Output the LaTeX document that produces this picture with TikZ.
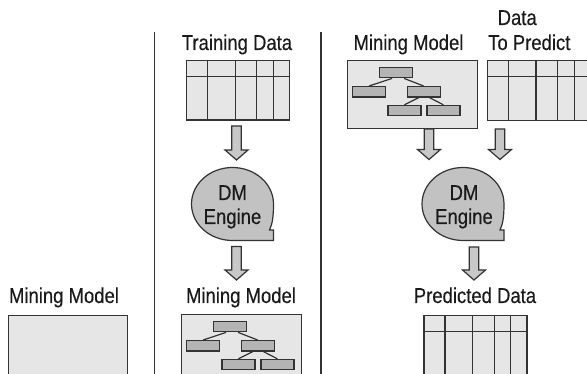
\documentclass[tikz,border=0pt]{standalone}
\usepackage{fontspec}
\setmainfont{Liberation Sans}[FakeStretch=0.86, FakeBold=0.3]
\usetikzlibrary{calc}
\definecolor{ink}{HTML}{333333}
\definecolor{txt}{HTML}{1A1A1A}
\definecolor{light}{HTML}{E6E6E6}
\definecolor{leafgray}{HTML}{B4B4B4}
\definecolor{arrowgray}{HTML}{C8C8C8}
\definecolor{bubblegray}{HTML}{C2C2C2}
\tikzset{
  lw/.style={line width=1.2pt},
  lbl/.style={font=\fontsize{21.5}{24}\selectfont, text=txt, anchor=base, inner sep=0pt},
  tablebox/.style={draw=ink, lw, fill=light, minimum width=103pt, minimum height=60pt, inner sep=0pt, anchor=north west},
  modelbox/.style={draw=ink, lw, fill=light, inner sep=0pt, anchor=north west},
  leaf/.style={draw=ink, lw, fill=leafgray, minimum width=33pt, minimum height=10.5pt, inner sep=0pt, anchor=north west},
  blockarrow/.style={draw=ink, lw, fill=arrowgray, line join=miter},
  bubble/.style={draw=ink, lw, fill=bubblegray, line join=miter},
  divider/.style={draw=ink, line width=1.5pt},
}
% data table: #1 name, #2 x, #3 y, #4 height
\newcommand{\datatable}[4]{%
  \node[tablebox, minimum height=#4] (#1) at (#2,#3) {};
  \draw[ink, lw] ($(#1.north west)+(0,16.3)$) -- ($(#1.north east)+(0,16.3)$);
  \foreach \c in {21.7,49.3,70.8,87.5}
    \draw[ink, lw] ($(#1.north west)+(\c,0)$) -- ($(#1.south west)+(\c,0)$);
}
% tree inside model box: #1 prefix, #2 x, #3 y (box top-left)
\newcommand{\minitree}[3]{%
  \node[leaf] (#1t) at (#2+32,#3+6.7) {};
  \node[leaf] (#1l) at (#2+5,#3+26) {};
  \node[leaf] (#1r) at (#2+59.5,#3+26) {};
  \node[leaf] (#1a) at (#2+40.3,#3+44.8) {};
  \node[leaf] (#1b) at (#2+79.3,#3+44.8) {};
  \draw[ink, lw] ($(#1t.south)+(-4,0)$) -- (#1l.north);
  \draw[ink, lw] ($(#1t.south)+(8,0)$) -- (#1r.north);
  \draw[ink, lw] ($(#1r.south)+(-5,0)$) -- (#1a.north);
  \draw[ink, lw] ($(#1r.south)+(6,0)$) -- (#1b.north);
}
% block arrow: #1 top coordinate, #2 tip coordinate
\newcommand{\blockarr}[2]{%
  \draw[blockarrow] ($(#1)+(-4.7,0)$) -- ($(#2)+(-4.7,-10)$) -- ($(#2)+(-11.5,-10)$) -- (#2)
    -- ($(#2)+(11.5,-10)$) -- ($(#2)+(4.7,-10)$) -- ($(#1)+(4.7,0)$) -- cycle;
}
% speech bubble centred at #1
\newcommand{\dmbubble}[1]{%
  \draw[bubble, shift={(#1)}] (41,0) .. controls (41,12) and (40,20) .. (37,26) -- (41,26) -- (41,36.5)
    -- (0,36.5) .. controls (-22.6,36.5) and (-41,20.2) .. (-41,0)
    .. controls (-41,-20.2) and (-22.6,-36.5) .. (0,-36.5)
    .. controls (22.6,-36.5) and (41,-20.2) .. (41,0) -- cycle;
}
\begin{document}
\begin{tikzpicture}[x=1pt,y=-1pt]
\clip (0,0) rectangle (587,374);
\fill[white] (0,0) rectangle (587,374);

% dividers
\draw[divider] (154.5,32) -- (154.5,380);
\draw[divider] (321,32) -- (321,380);

% left panel
\node[lbl] (mmL) at (64,303) {Mining Model};
\node[modelbox, minimum width=119pt, minimum height=80pt] (boxL) at (7.7,315) {};

% middle panel
\node[lbl] (td) at (237,50) {Training Data};
\datatable{tblTD}{186}{60}{59.5}
\coordinate (a1s) at (236.5,126);
\coordinate (a1e) at (236.5,160);
\blockarr{a1s}{a1e}
\dmbubble{232.5,204}
\node[lbl] (eng1) at (232.5,200) {DM};
\node[lbl] (eng1b) at (232.5,224) {Engine};
\coordinate (a2s) at (236.5,246.5);
\coordinate (a2e) at (236.5,280);
\blockarr{a2s}{a2e}
\node[lbl] (mmM) at (241,303) {Mining Model};
\node[modelbox, minimum width=120pt, minimum height=80pt] (boxM) at (181,314) {};
\minitree{tm}{181}{314}

% right panel
\node[lbl] (mmR) at (408.5,50) {Mining Model};
\node[modelbox, minimum width=130pt, minimum height=68pt] (boxR) at (347,60) {};
\minitree{tr}{347}{60}
\node[lbl, anchor=base west] (dtp1) at (497.5,25) {Data};
\node[lbl, anchor=base west] (dtp2) at (488,50) {To Predict};
\datatable{tblDP}{486.7}{60}{60}
\coordinate (a3s) at (429,129);
\coordinate (a3e) at (429,159.5);
\blockarr{a3s}{a3e}
\coordinate (a4s) at (500,129);
\coordinate (a4e) at (500,159.5);
\blockarr{a4s}{a4e}
\dmbubble{463,204}
\node[lbl] (eng2) at (464,200) {DM};
\node[lbl] (eng2b) at (464,224) {Engine};
\coordinate (a5s) at (474,247);
\coordinate (a5e) at (474,280);
\blockarr{a5s}{a5e}
\node[lbl] (pd) at (475,303) {Predicted Data};
\datatable{tblPD}{423.3}{315}{80}
\end{tikzpicture}
\end{document}
